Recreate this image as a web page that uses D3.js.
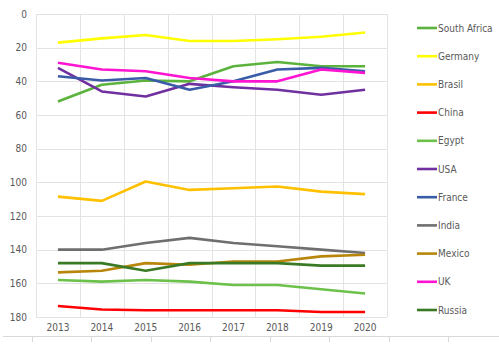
<!DOCTYPE html>
<html>
<head>
<meta charset="utf-8">
<script src="https://cdn.jsdelivr.net/npm/d3@7"></script>
<style>
  html, body { margin: 0; padding: 0; background: #fff; }
  svg { display: block; }
  text { font-family: "Liberation Sans Narrow", "DejaVu Sans Condensed", "Liberation Sans", Arial, sans-serif; fill: #595959; }
</style>
</head>
<body>
<svg id="chart" width="499" height="356"></svg>
<script>
const years = ["2013", "2014", "2015", "2016", "2017", "2018", "2019", "2020"];
const yTicks = [0, 20, 40, 60, 80, 100, 120, 140, 160, 180];
const seriesNames = ["South Africa", "Germany", "Brasil", "China", "Egypt", "USA", "France", "India", "Mexico", "UK", "Russia"];
const seriesColors = ["#5bb33d", "#ffff00", "#ffc000", "#ff0000", "#6cc14a", "#7030a0", "#3a5ca8", "#6f6f6f", "#b8860b", "#ff14d2", "#3b7a25"];

const southAfrica = [52, 42, 39.5, 40, 31, 28.5, 31, 31];
const germany     = [17, 14.5, 12.5, 16, 16, 15, 13.5, 11];
const brasil      = [108.5, 111, 99.5, 104.5, 103.5, 102.5, 105.5, 107];
const china       = [173.5, 175.5, 176, 176, 176, 176, 177, 177];
const egypt       = [158, 159, 158, 159, 161, 161, 163.5, 166];
const usa         = [32, 46, 49, 41.5, 43.5, 45, 48, 45];
const france      = [37, 39.5, 38, 45, 40, 33, 32, 34];
const india       = [140, 140, 136, 133, 136, 138, 140, 142];
const mexico      = [153.5, 152.5, 148, 149, 147, 147, 144, 143];
const uk          = [29, 33, 34, 38, 40, 40, 33, 35];
const russia      = [148, 148, 152.5, 148, 148, 148, 149.5, 149.5];

const seriesValues = [southAfrica, germany, brasil, china, egypt, usa, france, india, mexico, uk, russia];

const svg = d3.select("#chart");
const plotL = 36, plotR = 387, plotT = 14, plotB = 317;

const x = d3.scaleBand().domain(years).range([plotL, plotR]).paddingInner(0).paddingOuter(0);
const y = d3.scaleLinear().domain([0, 180]).range([plotT, plotB]);

const grid = svg.append("g");
grid.selectAll("line.h").data(yTicks).join("line")
  .attr("x1", plotL).attr("x2", plotR)
  .attr("y1", d => Math.round(y(d)) + 0.5).attr("y2", d => Math.round(y(d)) + 0.5)
  .attr("stroke", "#e3e3e3").attr("stroke-width", 1);
const edges = years.map(d => x(d)).concat([x(years[years.length - 1]) + x.bandwidth()]);
grid.selectAll("line.v").data(edges).join("line")
  .attr("x1", d => Math.round(d) + 0.5).attr("x2", d => Math.round(d) + 0.5)
  .attr("y1", plotT).attr("y2", plotB)
  .attr("stroke", "#e3e3e3").attr("stroke-width", 1);

const fontFam = '"Liberation Sans Narrow", "DejaVu Sans Condensed", "Liberation Sans", sans-serif';

const yAxis = d3.axisLeft(y).tickValues(yTicks).tickSize(0).tickPadding(9);
const gy = svg.append("g").attr("transform", `translate(${plotL},0)`).call(yAxis);
gy.select(".domain").remove();
gy.selectAll("text").attr("font-size", 10).style("fill", "#595959").attr("font-family", fontFam);

const xAxis = d3.axisBottom(x).tickSize(0).tickPadding(7);
const gx = svg.append("g").attr("transform", `translate(0,${plotB})`).call(xAxis);
gx.select(".domain").remove();
gx.selectAll("text").attr("font-size", 10).style("fill", "#595959").attr("font-family", fontFam);

const line = d3.line()
  .x((d, i) => x(years[i]) + x.bandwidth() / 2)
  .y(d => y(d));

svg.append("g").selectAll("path").data(seriesValues).join("path")
  .attr("d", d => line(d))
  .attr("fill", "none")
  .attr("stroke", (d, i) => seriesColors[i])
  .attr("stroke-width", 2.6)
  .attr("stroke-linejoin", "round");

const legendY = d3.scalePoint().domain(seriesNames).range([28, 310]);
const lg = svg.append("g");
const items = lg.selectAll("g").data(seriesNames).join("g")
  .attr("transform", d => `translate(417,${legendY(d)})`);
items.append("line").attr("x1", 0).attr("x2", 20).attr("y1", 0).attr("y2", 0)
  .attr("stroke", (d, i) => seriesColors[i]).attr("stroke-width", 2.6);
items.append("text").attr("x", 21).attr("y", 0).attr("dy", "0.35em")
  .attr("font-size", 10).attr("font-family", fontFam).text(d => d);

const outer = d3.scaleLinear().domain([0, 7]).range([32, 448]);
svg.append("line").attr("x1", 3).attr("x2", 499).attr("y1", 336.5).attr("y2", 336.5)
  .attr("stroke", "#d9d9d9").attr("stroke-width", 1);
svg.append("g").selectAll("line").data(d3.range(8)).join("line")
  .attr("x1", d => Math.round(outer(d)) + 0.5).attr("x2", d => Math.round(outer(d)) + 0.5)
  .attr("y1", 336.5).attr("y2", 342)
  .attr("stroke", "#d9d9d9").attr("stroke-width", 1);
</script>
</body>
</html>
